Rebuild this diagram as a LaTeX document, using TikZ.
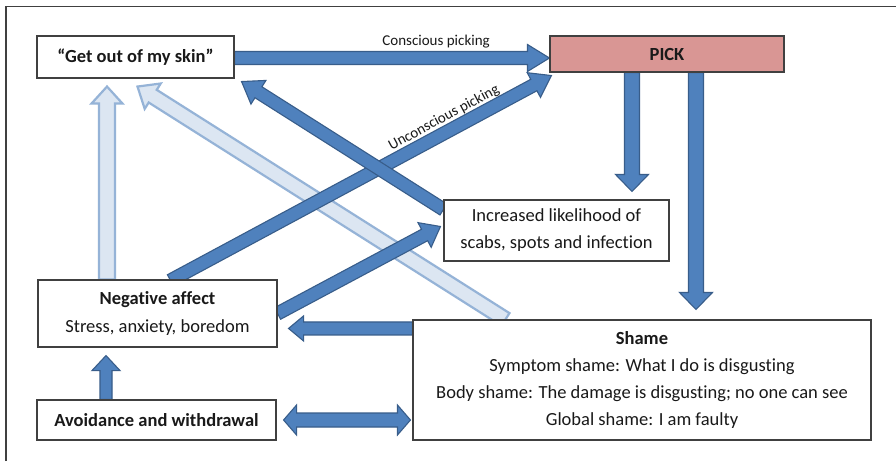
\documentclass[tikz,border=0pt]{standalone}
\usepackage{fontspec}
\setmainfont[Ligatures={NoCommon}]{Carlito}
\usetikzlibrary{calc}
\definecolor{darkfill}{RGB}{79,129,189}
\definecolor{darkedge}{RGB}{56,93,138}
\definecolor{lightfill}{RGB}{220,230,242}
\definecolor{lightedge}{RGB}{149,179,215}
\definecolor{boxedge}{RGB}{64,64,64}
\definecolor{pickfill}{RGB}{217,150,148}
\definecolor{txt}{RGB}{25,25,25}
\pgfdeclarelayer{back}
\pgfdeclarelayer{bg}
\pgfsetlayers{back,bg,main}
\newcommand\blockarrow[6]{%
  \coordinate (baH) at ($(#3)!#6!(#2)$);
  \draw[#1] ($(#2)!#4!90:(#3)$) -- ($(baH)!#4!90:(#3)$) -- ($(baH)!#5!90:(#3)$) -- (#3)
    -- ($(baH)!#5!-90:(#3)$) -- ($(baH)!#4!-90:(#3)$) -- ($(#2)!#4!-90:(#3)$) -- cycle;
}
\newcommand\dblockarrow[6]{%
  \coordinate (baH) at ($(#3)!#6!(#2)$);
  \coordinate (baT) at ($(#2)!#6!(#3)$);
  \draw[#1] (#2) -- ($(baT)!#5!90:(#3)$) -- ($(baT)!#4!90:(#3)$) -- ($(baH)!#4!90:(#3)$)
    -- ($(baH)!#5!90:(#3)$) -- (#3) -- ($(baH)!#5!-90:(#3)$) -- ($(baH)!#4!-90:(#3)$)
    -- ($(baT)!#4!-90:(#3)$) -- ($(baT)!#5!-90:(#3)$) -- cycle;
}
\tikzset{
  box/.style={draw=boxedge, line width=1.1pt, fill=white, align=center, inner sep=0pt,
    text=txt, font=\fontsize{18.5}{27}\selectfont},
  darkarr/.style={fill=darkfill, draw=darkedge, line width=1.1pt, line join=miter},
  lightarr/.style={fill=lightfill, draw=lightedge, line width=2.2pt, line join=miter},
  lbl/.style={text=txt, font=\fontsize{15}{17}\selectfont, inner sep=1pt},
}
\begin{document}
\begin{tikzpicture}[x=1pt,y=-1pt]
\useasboundingbox (0,0) rectangle (896,461);
\begin{pgfonlayer}{back}
\fill[white] (0,0) rectangle (896,461);
\end{pgfonlayer}
\draw[boxedge, line width=1.3pt] (6,461) -- (6,6.5) -- (896,6.5);

\node[box, minimum width=197pt, minimum height=42pt] (get) at (135.5,57) {\bfseries “Get out of my skin”};
\node[box, fill=pickfill, minimum width=234pt, minimum height=36pt] (pick) at (667,54) {\bfseries PICK};
\node[box, minimum width=225pt, minimum height=61pt] (inc) at (556.5,230.5) {Increased likelihood of\\scabs, spots and infection};
\node[box, minimum width=239pt, minimum height=67pt, font=\fontsize{18.5}{28}\selectfont] (neg) at (157.5,313.5) {\bfseries Negative affect\\Stress, anxiety, boredom};
\node[box, minimum width=239pt, minimum height=40pt] (avoid) at (156.5,420) {\bfseries Avoidance and withdrawal};
\node[box, minimum width=458pt, minimum height=120pt] (shame) at (642,380) {\bfseries Shame\\Symptom shame: What I do is disgusting\\Body shame: The damage is disgusting; no one can see\\Global shame: I am faulty};

\begin{pgfonlayer}{bg}
  % light arrows
  \coordinate (l1s) at ([xshift=-50.5pt]neg.north);
  \coordinate (l1e) at ([xshift=-28.5pt,yshift=-8pt]get.south);
  \blockarrow{lightarr}{l1s}{l1e}{8pt}{15.5pt}{17pt}
  \coordinate (l2s) at ([xshift=93pt]shame.north west);
  \coordinate (l2e) at ([xshift=2pt,yshift=-8pt]get.south);
  \blockarrow{lightarr}{l2s}{l2e}{7.5pt}{15pt}{18pt}
  % conscious picking
  \coordinate (c1s) at ([yshift=-1pt]get.east);
  \coordinate (c1e) at ([yshift=-4pt]pick.west);
  \blockarrow{darkarr}{c1s}{c1e}{6.5pt}{13.5pt}{22pt}
  \path (c1s) -- (c1e) node[lbl, pos=0.64, above=9pt] {Conscious picking};
  % unconscious picking
  \coordinate (u1s) at ([xshift=13pt,yshift=-1pt]neg.north);
  \coordinate (u1e) at ([xshift=2pt,yshift=-3pt]pick.south west);
  \blockarrow{darkarr}{u1s}{u1e}{6.5pt}{14pt}{20pt}
  \path (u1s) -- (u1e) node[lbl, pos=0.735, sloped, above=6pt] {Unconscious picking};
  % increased -> get
  \coordinate (i1s) at ([yshift=-10pt]inc.north west);
  \coordinate (i1e) at ([xshift=7pt,yshift=-3pt]get.south east);
  \blockarrow{darkarr}{i1s}{i1e}{6.5pt}{14pt}{20pt}
  % neg -> increased
  \coordinate (n1s) at (neg.east);
  \coordinate (n1e) at ([xshift=-3pt,yshift=4pt]inc.west);
  \blockarrow{darkarr}{n1s}{n1e}{6.5pt}{14pt}{18pt}
  % pick -> increased
  \coordinate (p1s) at ([xshift=-35pt]pick.south);
  \coordinate (p1m) at (p1s |- inc.north);
  \coordinate (p1e) at ([yshift=8pt]p1m);
  \blockarrow{darkarr}{p1s}{p1e}{7.5pt}{16.5pt}{17pt}
  % pick -> shame
  \coordinate (p2s) at ([xshift=29pt]pick.south);
  \coordinate (p2m) at (p2s |- shame.north);
  \coordinate (p2e) at ([yshift=10pt]p2m);
  \blockarrow{darkarr}{p2s}{p2e}{7.5pt}{16.5pt}{17pt}
  % shame -> neg
  \coordinate (s1s) at ([yshift=-9pt]shame.north west);
  \coordinate (s1m) at (s1s -| neg.east);
  \coordinate (s1e) at ([xshift=11pt]s1m);
  \blockarrow{darkarr}{s1s}{s1e}{6.5pt}{12.5pt}{15pt}
  % avoid -> neg
  \coordinate (a1s) at ([xshift=-50.5pt]avoid.north);
  \coordinate (a1m) at (a1s |- neg.south);
  \coordinate (a1e) at ([yshift=-8pt]a1m);
  \blockarrow{darkarr}{a1s}{a1e}{6pt}{14pt}{15pt}
  % avoid <-> shame
  \coordinate (d1s) at ([xshift=7pt]avoid.east);
  \coordinate (d1m) at (d1s -| shame.west);
  \coordinate (d1e) at ([xshift=-2pt]d1m);
  \dblockarrow{darkarr}{d1s}{d1e}{7pt}{15pt}{13pt}
\end{pgfonlayer}
\end{tikzpicture}
\end{document}
